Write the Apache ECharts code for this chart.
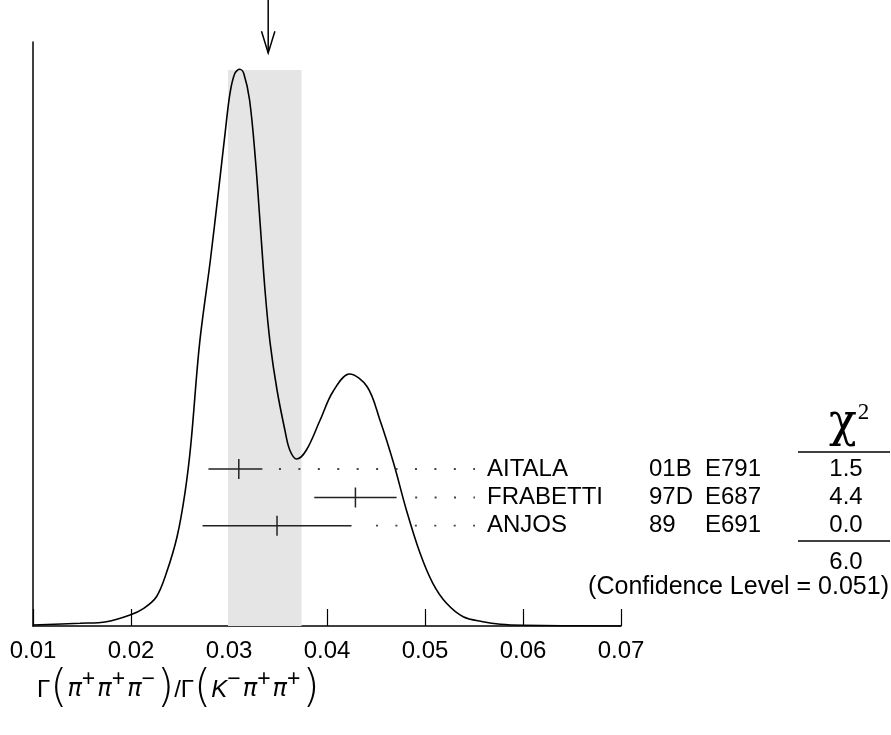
<!DOCTYPE html>
<html>
<head>
<meta charset="utf-8">
<script src="https://cdn.jsdelivr.net/npm/echarts@6/dist/echarts.min.js"></script>
<style>
  html, body { margin: 0; padding: 0; background: #fff; }
  #ideogram { width: 891px; height: 735px; }
</style>
</head>
<body>
<div id="ideogram"></div>
<script>

/*Ideogram data*/

var names = ['AITALA', 'FRABETTI', 'ANJOS'];
var refs = ['01B', '97D', '89'];
var exps = ['E791', 'E687', 'E691'];
var chi2 = ['1.5', '4.4', '0.0'];
var chi2Total = '6.0';
var confLevel = '0.051';

// measured value and its error range, one entry per measurement
var centers = [0.0310, 0.0429, 0.0349];
var lows = [0.0279, 0.0387, 0.0273];
var highs = [0.0334, 0.0471, 0.0425];
// where the dotted leader of each row starts and ends
var leaderFrom = [0.0352, 0.0491, 0.0451];
var leaderTo = [0.0550, 0.0550, 0.0550];

// weighted average (arrow) and its band
var average = 0.0340;
var bandLow = 0.0299;
var bandHigh = 0.0374;

// ideogram curve (height in arbitrary units)
var curveX = [0.0100, 0.0148, 0.0175, 0.0199, 0.0213, 0.0226, 0.0236, 0.0247, 0.0255, 0.0261,
	0.0270, 0.0281, 0.0289, 0.0296, 0.0301, 0.0306, 0.0311, 0.0315, 0.0321, 0.0327,
	0.0332, 0.0337, 0.0342, 0.0349, 0.0357, 0.0362, 0.0369, 0.0379, 0.0393, 0.0406,
	0.0423, 0.0441, 0.0454, 0.0468, 0.0481, 0.0495, 0.0508, 0.0522, 0.0539, 0.0559,
	0.0577, 0.0600, 0.0700];
var curveY = [1, 2.7, 4.3, 11, 17.7, 29.3, 52.7, 89.3, 132.7, 181,
	282.7, 366, 432.7, 492.7, 532.7, 552.7, 556.7, 552.7, 526, 466,
	399.3, 332.7, 282.7, 236, 196, 176, 167, 176, 206, 234.3,
	252, 239.3, 206, 162.7, 116, 72.7, 42.7, 22.7, 9.3, 4.3,
	1.7, 0.7, 0];

var xTicks = { min: 0.01, max: 0.07, interval: 0.01 };

/*Layout*/

var yMax = 584;          // top of the left axis
var bandTop = 556;       // band reaches the peak
var rowLevel = [157, 128.5, 100.3];
var arrowTip = 573, arrowTail = 626;
var FONT = 'Liberation Sans, Arial, sans-serif';

var chart = echarts.init(document.getElementById('ideogram'));

var curveData = curveX.map(function (x, i) { return [x, curveY[i]]; });
var barData = centers.map(function (c, i) { return [c, lows[i], highs[i], rowLevel[i]]; });
var leaderData = leaderFrom.map(function (f, i) { return [f, leaderTo[i], rowLevel[i]]; });

function txt(x, y, text, align, size) {
	return {
		type: 'text', x: x, y: y, silent: true,
		style: {
			text: text, fill: '#000', font: (size || 24) + 'px ' + FONT,
			align: align || 'left', verticalAlign: 'middle'
		}
	};
}

var rowPx = [469, 497.5, 525.7];
var graphics = [];
names.forEach(function (n, i) {
	graphics.push(txt(487, rowPx[i], n));
	graphics.push(txt(649, rowPx[i], refs[i]));
	graphics.push(txt(705, rowPx[i], exps[i]));
	graphics.push(txt(846, rowPx[i], chi2[i], 'center'));
});
graphics.push(txt(846, 562, chi2Total, 'center'));
graphics.push(txt(889, 587, '(Confidence Level = ' + confLevel + ')', 'right', 25));
graphics.push({ type: 'line', silent: true, shape: { x1: 798, y1: 452, x2: 890, y2: 452 }, style: { stroke: '#000', lineWidth: 1.5 } });
graphics.push({ type: 'line', silent: true, shape: { x1: 798, y1: 541, x2: 890, y2: 541 }, style: { stroke: '#000', lineWidth: 1.5 } });
graphics.push({
	type: 'text', x: 829, y: 424, silent: true,
	style: {
		text: '{c|χ}{s|2}', verticalAlign: 'middle',
		rich: {
			c: { fontSize: 46, fontFamily: 'DejaVu Serif, serif', fill: '#000' },
			s: { fontSize: 23, fontFamily: 'Liberation Serif, serif', fill: '#000', verticalAlign: 'top', padding: [0, 0, 0, 1] }
		}
	}
});
graphics.push({
	type: 'text', x: 37, y: 690, silent: true,
	style: {
		text: '{g|Γ}{p|(}{pi|π}{s|+}{pi|π}{s|+}{pi|π}{s|−}{p|)}{g|/Γ}{p|(}{k|K}{s|−}{pi|π}{s|+}{pi|π}{s|+}{p|)}',
		verticalAlign: 'middle',
		rich: {
			g: { fontSize: 24, fontFamily: FONT, fill: '#000' },
			p: { fontSize: 44, fontFamily: 'DejaVu Sans', fontWeight: 200, fill: '#000' },
			pi: { fontSize: 24, fontFamily: 'DejaVu Sans', fontStyle: 'italic', fill: '#000' },
			k: { fontSize: 24, fontFamily: FONT, fontStyle: 'italic', fill: '#000' },
			s: { fontSize: 23, fontFamily: FONT, fill: '#000', verticalAlign: 'top', padding: [0, 2, 0, 0] }
		}
	}
});

var option = {
	animation: false,
	backgroundColor: '#fff',
	grid: { left: 33, right: 270, top: 42, bottom: 109 },
	xAxis: {
		type: 'value',
		min: xTicks.min, max: xTicks.max, interval: xTicks.interval,
		axisLine: { lineStyle: { color: '#000', width: 1.5 } },
		axisTick: { inside: true, length: 17, lineStyle: { color: '#000', width: 1.2 } },
		axisLabel: {
			fontSize: 24, fontFamily: FONT, color: '#000', margin: 13,
			formatter: function (v) { return v.toFixed(2); }
		},
		splitLine: { show: false }
	},
	yAxis: {
		type: 'value', min: 0, max: yMax,
		axisLine: { show: true, lineStyle: { color: '#000', width: 1.5 } },
		axisTick: { show: false },
		axisLabel: { show: false },
		splitLine: { show: false }
	},
	graphic: graphics,
	series: [
		{
			type: 'line', data: [], z: 1, silent: true,
			markArea: {
				silent: true,
				itemStyle: { color: '#e5e5e5' },
				data: [[{ xAxis: bandLow, yAxis: 0 }, { xAxis: bandHigh, yAxis: bandTop }]]
			}
		},
		{
			type: 'line', data: curveData, z: 3, silent: true,
			smooth: 0.35, showSymbol: false, symbol: 'none',
			lineStyle: { color: '#000', width: 1.6 }
		},
		{
			type: 'custom', z: 4, silent: true, data: barData,
			encode: { x: [0, 1, 2], y: 3 },
			renderItem: function (params, api) {
				var c = api.coord([api.value(0), api.value(3)]);
				var l = api.coord([api.value(1), api.value(3)]);
				var h = api.coord([api.value(2), api.value(3)]);
				var st = { stroke: '#222', lineWidth: 1.5 };
				return {
					type: 'group', children: [
						{ type: 'line', shape: { x1: l[0], y1: c[1], x2: h[0], y2: c[1] }, style: st },
						{ type: 'line', shape: { x1: c[0], y1: c[1] - 10, x2: c[0], y2: c[1] + 10 }, style: st }
					]
				};
			}
		},
		{
			type: 'custom', z: 4, silent: true, data: leaderData,
			encode: { x: [0, 1], y: 2 },
			renderItem: function (params, api) {
				var a = api.coord([api.value(0), api.value(2)]);
				var b = api.coord([api.value(1), api.value(2)]);
				return {
					type: 'line',
					shape: { x1: a[0] - 1, y1: a[1], x2: b[0] + 1, y2: b[1] },
					style: { stroke: '#444', lineWidth: 1.8, lineDash: [2, 17.43] }
				};
			}
		},
		{
			type: 'custom', z: 4, silent: true, clip: false,
			data: [[average, arrowTip, arrowTail]],
			encode: { x: 0, y: 1 },
			renderItem: function (params, api) {
				var tip = api.coord([api.value(0), api.value(1)]);
				var tail = api.coord([api.value(0), api.value(2)]);
				var st = { stroke: '#000', lineWidth: 1.5, fill: null };
				return {
					type: 'group', children: [
						{ type: 'line', shape: { x1: tail[0], y1: tail[1], x2: tip[0], y2: tip[1] }, style: st },
						{ type: 'polyline', shape: { points: [[tip[0] - 6.7, tip[1] - 21.7], [tip[0], tip[1]], [tip[0] + 6.7, tip[1] - 21.7]] }, style: st }
					]
				};
			}
		}
	]
};

chart.setOption(option);

/*Ideogram data*/
</script>
</body>
</html>
